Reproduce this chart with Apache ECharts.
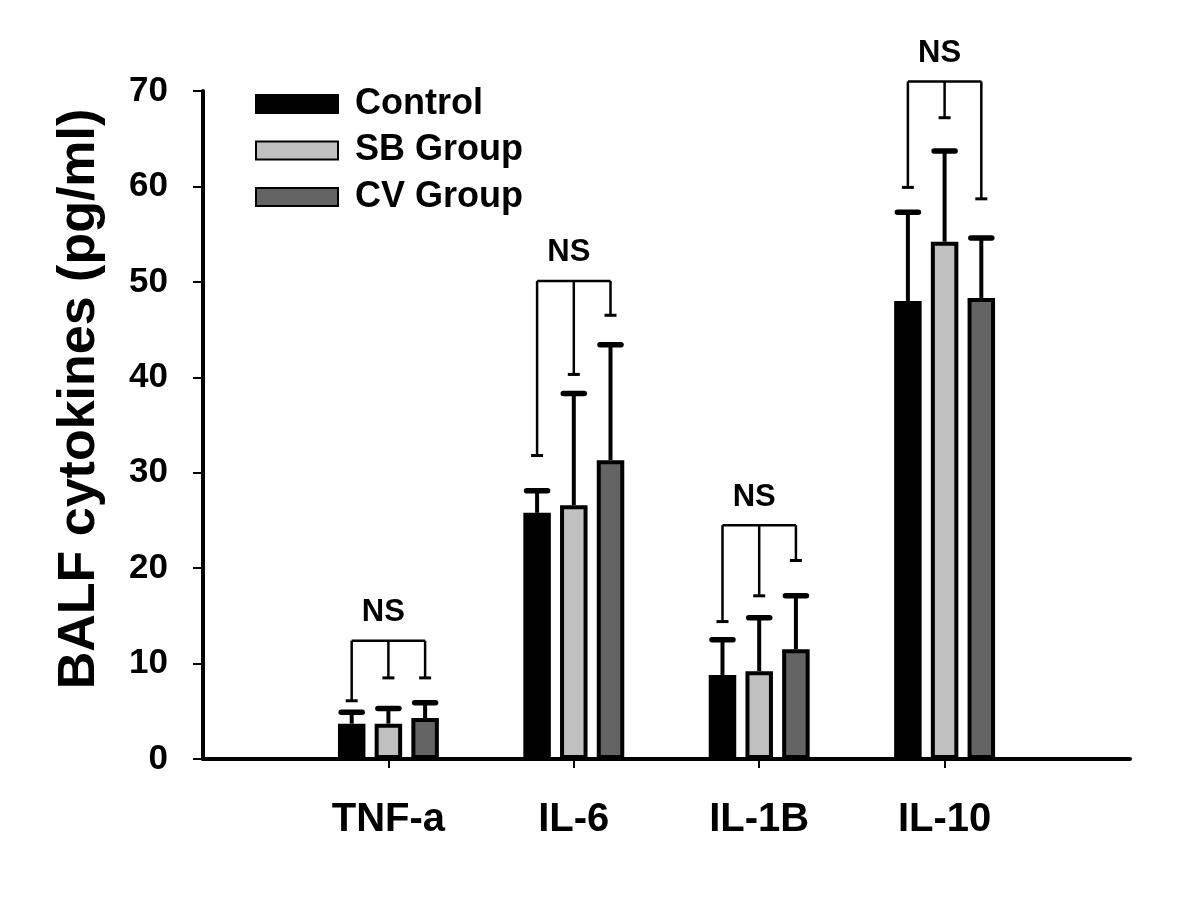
<!DOCTYPE html>
<html>
<head>
<meta charset="utf-8">
<script src="https://cdn.jsdelivr.net/npm/echarts@6/dist/echarts.min.js"></script>
<style>
html,body{margin:0;padding:0;background:#fff;}
#chart{width:1200px;height:923px;}
</style>
</head>
<body>
<div id="chart"></div>
<script>
// ---- data ----
const categories = ['TNF-a', 'IL-6', 'IL-1B', 'IL-10'];
const groupNames = ['Control', 'SB Group', 'CV Group'];
const controlMean = [3.7, 25.8, 8.8, 48.0];
const controlErr  = [1.2, 2.3, 3.7, 9.3];
const sbMean      = [3.7, 26.6, 9.2, 54.2];
const sbErr       = [1.6, 11.7, 5.6, 9.5];
const cvMean      = [4.3, 31.3, 11.5, 48.3];
const cvErr       = [1.6, 12.1, 5.6, 6.3];
// significance brackets: top of bracket, and the lower ends of the left/middle/right legs
const bracketTop   = [12.4, 50.1, 24.5, 71.0];
const bracketLeft  = [6.1, 31.8, 14.4, 59.9];
const bracketMid   = [8.5, 40.3, 17.1, 67.2];
const bracketRight = [8.5, 46.5, 20.8, 58.7];
const bracketLabel = ['NS', 'NS', 'NS', 'NS'];
const yTicks = [0, 10, 20, 30, 40, 50, 60, 70];

// ---- build ----
const axisCats = [''].concat(categories, ['']);
const pad = arr => [null].concat(arr, [null]);
const means = [controlMean, sbMean, cvMean];
const errs = [controlErr, sbErr, cvErr];
const colors = ['#000000', '#c0c0c0', '#646464'];
const BAR_W = 27.5, BAR_GAP = 0.335;
const STEP = BAR_W * (1 + BAR_GAP);

const barSeries = groupNames.map((name, g) => ({
  name: name,
  type: 'bar',
  barWidth: BAR_W,
  barGap: (BAR_GAP * 100) + '%',
  data: pad(means[g]),
  itemStyle: { color: colors[g], borderColor: '#000', borderWidth: 4 },
  z: 3
}));

const errSeries = groupNames.map((name, g) => ({
  type: 'custom',
  silent: true,
  z: 2,
  data: means[g].map((m, i) => [i + 1, m, m + errs[g][i]]),
  renderItem: function (params, api) {
    const base = api.coord([api.value(0), api.value(1)]);
    const top = api.coord([api.value(0), api.value(2)]);
    const x = base[0] + (g - 1) * STEP;
    return {
      type: 'group',
      children: [
        { type: 'line', shape: { x1: x, y1: base[1], x2: x, y2: top[1] }, style: { stroke: '#000', lineWidth: 4 } },
        { type: 'line', shape: { x1: x - 10.5, y1: top[1], x2: x + 10.5, y2: top[1] }, style: { stroke: '#000', lineWidth: 5.5, lineCap: 'round' } }
      ]
    };
  }
}));

const bracketSeries = {
  type: 'custom',
  silent: true,
  z: 4,
  data: categories.map((c, i) => [i + 1, bracketTop[i], bracketLeft[i], bracketMid[i], bracketRight[i]]),
  renderItem: function (params, api) {
    const i = params.dataIndex;
    const cx = api.coord([api.value(0), 0])[0];
    const yTop = api.coord([api.value(0), api.value(1)])[1];
    const ends = [api.value(2), api.value(3), api.value(4)].map(v => api.coord([api.value(0), v])[1]);
    const xs = [cx - STEP, cx, cx + STEP];
    const st = { stroke: '#000', lineWidth: 2.5 };
    const children = [
      { type: 'line', shape: { x1: xs[0], y1: yTop, x2: xs[2], y2: yTop }, style: st }
    ];
    xs.forEach((x, k) => {
      children.push({ type: 'line', shape: { x1: x, y1: yTop, x2: x, y2: ends[k] }, style: st });
      children.push({ type: 'line', shape: { x1: x - 6, y1: ends[k], x2: x + 6, y2: ends[k] }, style: { stroke: '#000', lineWidth: 3 } });
    });
    children.push({
      type: 'text',
      style: {
        text: bracketLabel[i], x: cx - 5, y: yTop - 28,
        fill: '#000', font: 'bold 31px "Liberation Sans", Arial, sans-serif',
        textAlign: 'center', textVerticalAlign: 'middle'
      }
    });
    return { type: 'group', children: children };
  }
};

const chart = echarts.init(document.getElementById('chart'), null, { renderer: 'canvas' });
chart.setOption({
  backgroundColor: '#ffffff',
  animation: false,
  grid: { left: 203, right: 70, top: 91, bottom: 164, containLabel: false },
  legend: {
    data: groupNames,
    orient: 'vertical',
    left: 250,
    top: 81,
    itemWidth: 82,
    itemHeight: 18,
    itemGap: 10.5,
    icon: 'rect',
    textStyle: { fontSize: 36, fontWeight: 'bold', color: '#000', fontFamily: '"Liberation Sans", Arial, sans-serif', lineHeight: 34, padding: [0, 0, 0, 12] },
    selectedMode: false
  },
  xAxis: {
    type: 'category',
    data: axisCats,
    boundaryGap: false,
    axisLine: { lineStyle: { color: '#000', width: 4 } },
    axisTick: { show: true, interval: (idx) => idx >= 1 && idx <= categories.length, length: 9, lineStyle: { color: '#000', width: 2 } },
    axisLabel: {
      interval: 0,
      margin: 41,
      fontSize: 40,
      fontWeight: 'bold',
      color: '#000',
      fontFamily: '"Liberation Sans", Arial, sans-serif'
    },
    splitLine: { show: false }
  },
  yAxis: {
    type: 'value',
    min: yTicks[0],
    max: yTicks[yTicks.length - 1],
    interval: 10,
    axisLine: { show: true, lineStyle: { color: '#000', width: 4 } },
    axisTick: { show: true, inside: false, length: 10, lineStyle: { color: '#000', width: 2 } },
    axisLabel: { margin: 35, fontSize: 35, fontWeight: 'bold', color: '#000', fontFamily: '"Liberation Sans", Arial, sans-serif' },
    splitLine: { show: false }
  },
  graphic: [{
    type: 'text',
    x: 80, y: 399,
    rotation: Math.PI / 2,
    style: {
      text: 'BALF cytokines (pg/ml)',
      font: 'bold 52px "Liberation Sans", Arial, sans-serif',
      fill: '#000',
      textAlign: 'center',
      textVerticalAlign: 'middle'
    }
  }],
  series: barSeries.concat(errSeries, [bracketSeries])
});
</script>
</body>
</html>
